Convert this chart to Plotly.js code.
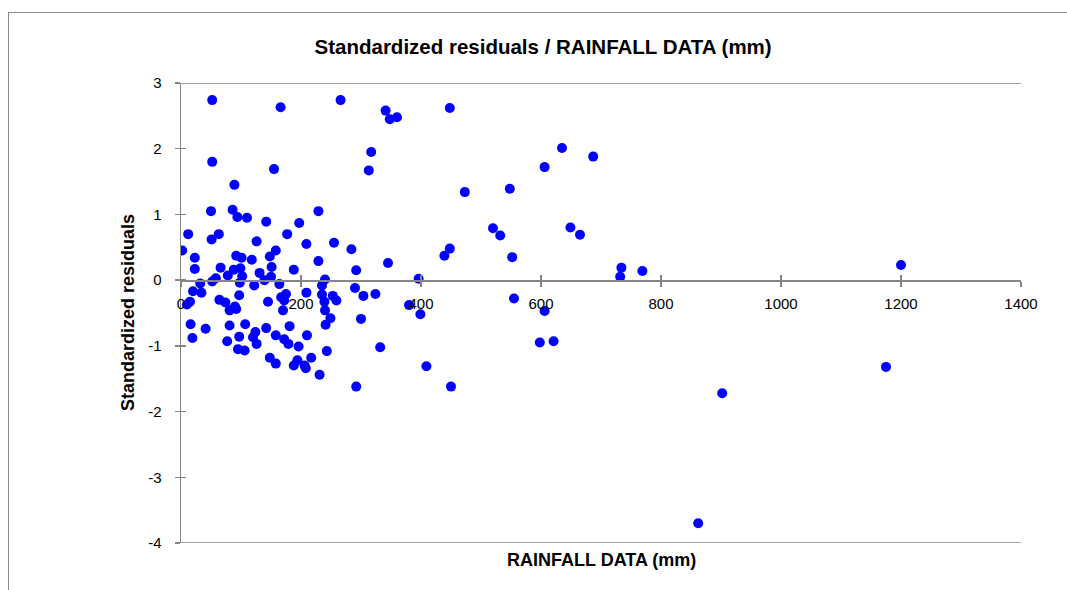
<!DOCTYPE html>
<html>
<head>
<meta charset="utf-8">
<script src="https://cdn.plot.ly/plotly-3.0.1.min.js"></script>
<style>
html,body{margin:0;padding:0;background:#fff;}
#chart{position:absolute;left:0;top:0;width:1067px;height:590px;}
#frame{position:absolute;left:8px;top:12px;width:1100px;height:600px;border-left:1px solid #8c8c8c;border-top:1px solid #8c8c8c;pointer-events:none;}
</style>
</head>
<body>
<div id="chart"></div>
<div id="frame"></div>
<script>
// Rainfall (mm)
const rainfall = [
  2, 12, 23, 23, 20, 32, 34, 15, 10, 16, 19, 41,
  50, 52, 52, 51, 63, 52, 58, 66, 64, 74, 78, 81, 81, 77,
  86, 89, 94, 88, 92, 99, 92, 90, 97, 98, 102, 101, 97, 95, 106, 107,
  110, 118, 122, 120, 124, 126, 126, 131, 139, 142, 145, 142, 148, 151, 150, 148, 158,
  155, 158, 158, 166, 164, 167, 175, 172, 170, 172, 179, 177, 181,
  188, 188, 194, 197, 196, 206, 208, 209, 209, 210, 217,
  229, 229, 231, 235, 240, 235, 239, 240, 241, 243, 249, 253, 259, 255,
  266, 284, 292, 290, 292, 300, 304, 313, 317, 324, 332, 341, 345, 348, 360,
  380, 396, 399, 409, 439, 448, 448, 450, 473,
  520, 532, 548, 552, 555, 598, 606, 606, 621, 635, 649, 665, 687,
  732, 734, 769, 862, 902, 1175, 1200
];
// Standardized residuals
const residuals = [
  0.45, 0.70, 0.34, 0.17, -0.17, -0.05, -0.19, -0.33, -0.37, -0.67, -0.88, -0.74,
  1.05, 2.74, 1.80, 0.62, 0.70, -0.02, 0.03, 0.19, -0.30, -0.34, 0.07, -0.46, -0.69, -0.93,
  1.07, 1.45, 0.96, 0.16, 0.37, 0.18, -0.44, -0.40, -0.23, -0.04, 0.06, 0.34, -0.86, -1.05, -1.07, -0.67,
  0.95, 0.31, -0.08, -0.87, -0.79, -0.97, 0.59, 0.11, 0.00, 0.89, -0.33, -0.73, 0.36, 0.20, 0.05, -1.18, -1.27,
  1.69, 0.45, -0.84, 2.63, -0.06, -0.26, -0.21, -0.31, -0.46, -0.90, -0.97, 0.70, -0.70,
  0.16, -1.30, -1.22, 0.87, -1.01, -1.30, -1.34, 0.55, -0.19, -0.84, -1.18,
  1.05, 0.29, -1.44, -0.08, 0.01, -0.22, -0.33, -0.46, -0.68, -1.08, -0.58, -0.24, -0.31, 0.57,
  2.74, 0.47, 0.15, -0.12, -1.62, -0.59, -0.24, 1.67, 1.95, -0.21, -1.02, 2.58, 0.26, 2.45, 2.48,
  -0.38, 0.02, -0.52, -1.31, 0.37, 0.48, 2.62, -1.62, 1.34,
  0.79, 0.68, 1.39, 0.35, -0.28, -0.95, 1.72, -0.47, -0.93, 2.01, 0.80, 0.69, 1.88,
  0.05, 0.19, 0.14, -3.70, -1.72, -1.32, 0.23
];
const xTicks = [0, 200, 400, 600, 800, 1000, 1200, 1400];
const yTicks = [-4, -3, -2, -1, 0, 1, 2, 3];

const axisGray = '#868686';
const fontFam = 'Liberation Sans, Arial, sans-serif';
const tickFont = {family: fontFam, size: 15, color: '#000'};

const trace = {
  x: rainfall, y: residuals, type: 'scatter', mode: 'markers',
  marker: {color: '#0000FF', size: 10},
  hoverinfo: 'x+y', showlegend: false
};

const layout = {
  width: 1067, height: 590,
  margin: {l: 181, r: 46, t: 83, b: 47, pad: 0},
  paper_bgcolor: '#fff', plot_bgcolor: '#fff',
  title: {text: '<b>Standardized residuals / RAINFALL DATA (mm)</b>',
          font: {family: fontFam, size: 20.5, color: '#000'},
          x: 0.509, xanchor: 'center', y: 0.92, yanchor: 'middle'},
  xaxis: {
    range: [0, 1400], tickvals: xTicks, ticktext: xTicks.map(String),
    anchor: 'free', position: 4/7,
    showline: true, linecolor: axisGray, linewidth: 1.5,
    ticks: 'outside', ticklen: 5, tickcolor: axisGray, tickwidth: 1.5,
    ticklabelstandoff: 4,
    showgrid: false, zeroline: false, tickfont: tickFont,
    title: {text: ''}
  },
  xaxis2: {
    range: [0, 1400], tickvals: xTicks, overlaying: 'x', anchor: 'free', position: 4/7,
    showline: false, ticks: 'inside', ticklen: 5, tickcolor: axisGray, tickwidth: 1.5,
    showticklabels: false, showgrid: false, zeroline: false
  },
  yaxis: {
    range: [-4, 3], tickvals: yTicks, ticktext: yTicks.map(String),
    showline: true, linecolor: axisGray, linewidth: 1.5,
    ticks: 'outside', ticklen: 5, tickcolor: axisGray, tickwidth: 1.5,
    ticklabelstandoff: 10,
    showgrid: false, zeroline: false, tickfont: tickFont,
    title: {text: ''}
  },
  yaxis2: {
    range: [-4, 3], tickvals: yTicks, overlaying: 'y', side: 'left',
    ticks: 'inside', ticklen: 5, tickcolor: axisGray, tickwidth: 1.5,
    showticklabels: false, showgrid: false, zeroline: false
  },
  shapes: [
    {type: 'line', xref: 'paper', yref: 'y', x0: 0, x1: 1, y0: 3, y1: 3, line: {color: axisGray, width: 1.5}, layer: 'below'},
    {type: 'line', xref: 'paper', yref: 'y', x0: 0, x1: 1, y0: -4, y1: -4, line: {color: axisGray, width: 1.5}, layer: 'below'}
  ],
  annotations: [
    {text: '<b>RAINFALL DATA (mm)</b>', xref: 'paper', yref: 'paper', x: 0.5, y: -0.037,
     xanchor: 'center', yanchor: 'middle', showarrow: false,
     font: {family: fontFam, size: 18, color: '#000'}},
    {text: '<b>Standardized residuals</b>', xref: 'paper', yref: 'paper', x: -0.063, y: 0.5,
     xanchor: 'center', yanchor: 'middle', textangle: -90, showarrow: false,
     font: {family: fontFam, size: 18, color: '#000'}}
  ]
};

const dummyX = {x: [null], y: [null], xaxis: 'x2', yaxis: 'y', type: 'scatter', mode: 'markers', showlegend: false, hoverinfo: 'skip'};
const dummyY = {x: [null], y: [null], xaxis: 'x', yaxis: 'y2', type: 'scatter', mode: 'markers', showlegend: false, hoverinfo: 'skip'};

Plotly.newPlot('chart', [dummyX, dummyY, trace], layout, {displayModeBar: false, staticPlot: true});
</script>
</body>
</html>
